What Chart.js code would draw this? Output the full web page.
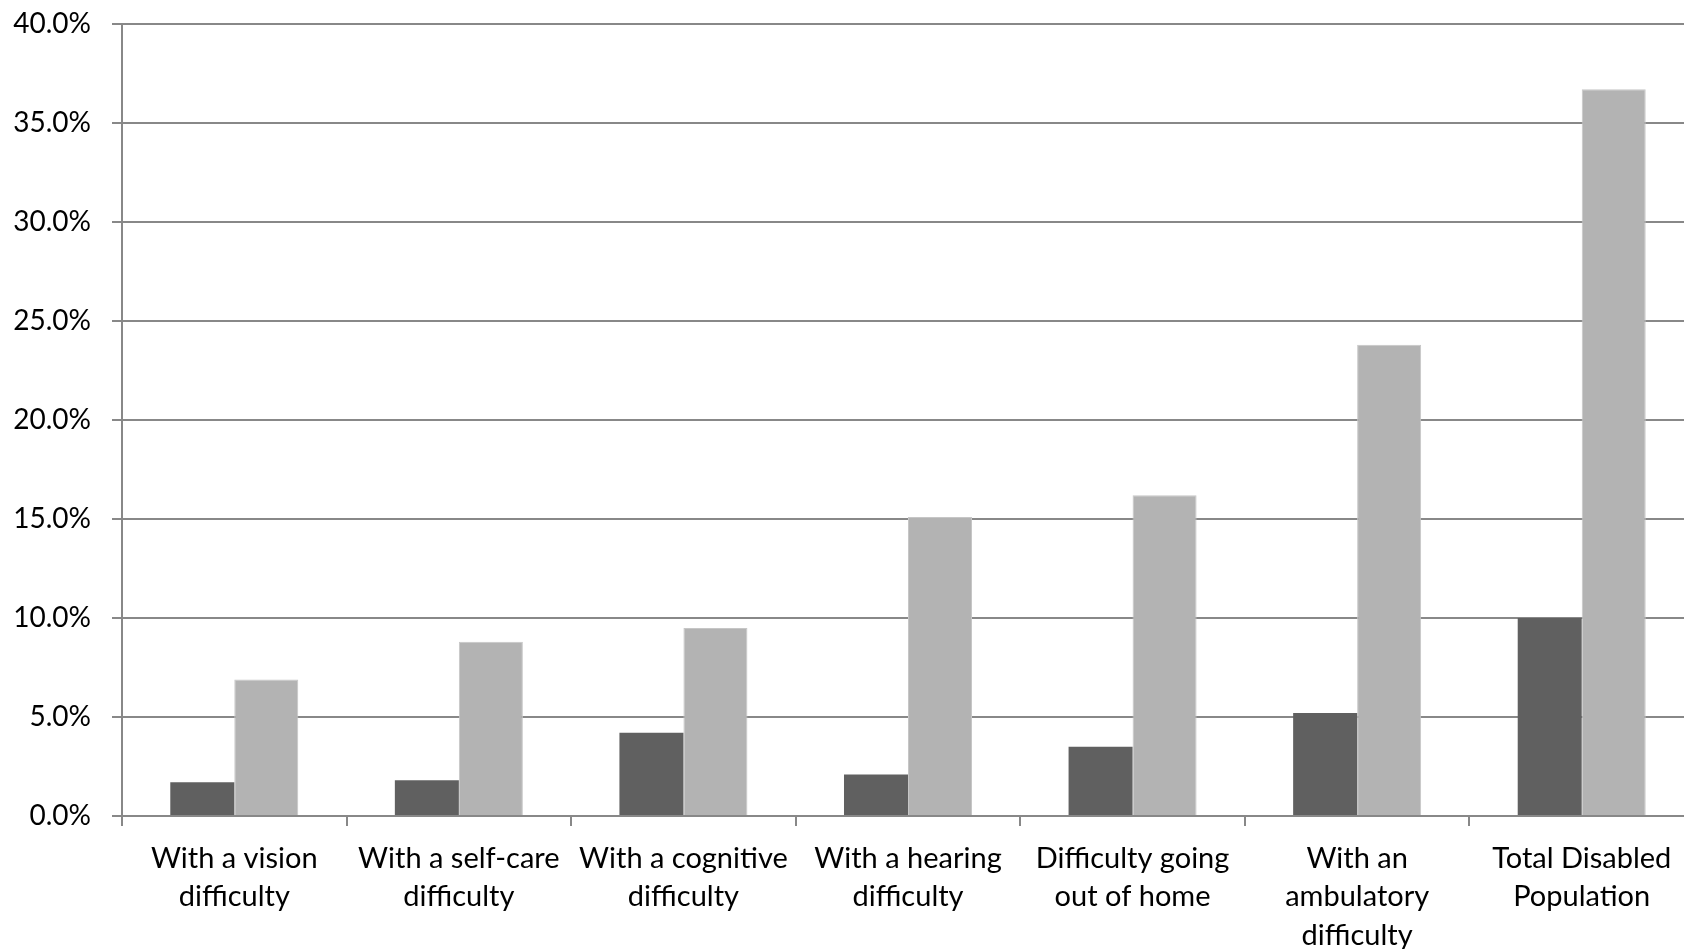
<!DOCTYPE html>
<html>
<head>
<meta charset="utf-8">
<script src="https://cdn.jsdelivr.net/npm/chart.js@4/dist/chart.umd.min.js"></script>
<style>
  html, body { margin: 0; padding: 0; background: #ffffff; overflow: hidden; }
  #wrap { width: 1700px; height: 949px; position: relative; }
  canvas { display: block; }
</style>
</head>
<body>
<div id="wrap"><canvas id="chart" width="1700" height="949"></canvas></div>
<script>
// Categories (multi-line axis labels)
const categories = [
  ["With a vision", "difficulty"],
  ["With a self-care", "difficulty"],
  ["With a cognitive", "difficulty"],
  ["With a hearing", "difficulty"],
  ["Difficulty going", "out of home"],
  ["With an", "ambulatory", "difficulty"],
  ["Total Disabled", "Population"]
];

// Percent values per category
const seriesDark = [1.7, 1.8, 4.2, 2.1, 3.5, 5.2, 10.0];
const seriesLight = [6.9, 8.8, 9.5, 15.1, 16.2, 23.8, 36.7];

// Y axis tick values
const yTicks = [0, 5, 10, 15, 20, 25, 30, 35, 40];

const FONT = "Lato, 'Open Sans', sans-serif";
const GRID = "#888888";

new Chart(document.getElementById("chart"), {
  type: "bar",
  data: {
    labels: categories,
    datasets: [
      {
        label: "Series 1",
        data: seriesDark,
        backgroundColor: "#606060",
        borderWidth: 0,
        categoryPercentage: 0.57,
        barPercentage: 1.0
      },
      {
        label: "Series 2",
        data: seriesLight,
        backgroundColor: "#b3b3b3",
        borderColor: "#c6c6c6",
        borderWidth: 1,
        categoryPercentage: 0.57,
        barPercentage: 1.0
      }
    ]
  },
  options: {
    responsive: false,
    animation: false,
    layout: { padding: { top: 24, right: 6, left: 0, bottom: 0 } },
    plugins: {
      legend: { display: false },
      tooltip: { enabled: false }
    },
    scales: {
      x: {
        grid: {
          offset: true,
          drawOnChartArea: false,
          drawTicks: true,
          tickLength: 10,
          color: GRID,
          lineWidth: 2
        },
        border: { display: true, color: GRID, width: 2 },
        ticks: {
          color: "#000000",
          font: { family: FONT, size: 29, lineHeight: 1.334 },
          padding: 13,
          maxRotation: 0,
          autoSkip: false
        },
        afterFit: (scale) => { scale.height = 133; }
      },
      y: {
        min: 0,
        max: 40,
        afterBuildTicks: (scale) => { scale.ticks = yTicks.map(v => ({ value: v })); },
        grid: {
          color: GRID,
          lineWidth: 2,
          drawTicks: true,
          tickLength: 10
        },
        border: { display: true, color: GRID, width: 2 },
        ticks: {
          color: "#000000",
          font: { family: FONT, size: 28 },
          padding: 21,
          callback: (v) => v.toFixed(1) + "%"
        },
        afterFit: (scale) => {
          scale.width = 122;
          scale.paddingTop = 0;
          scale.paddingBottom = 0;
        }
      }
    }
  }
});
</script>
</body>
</html>
